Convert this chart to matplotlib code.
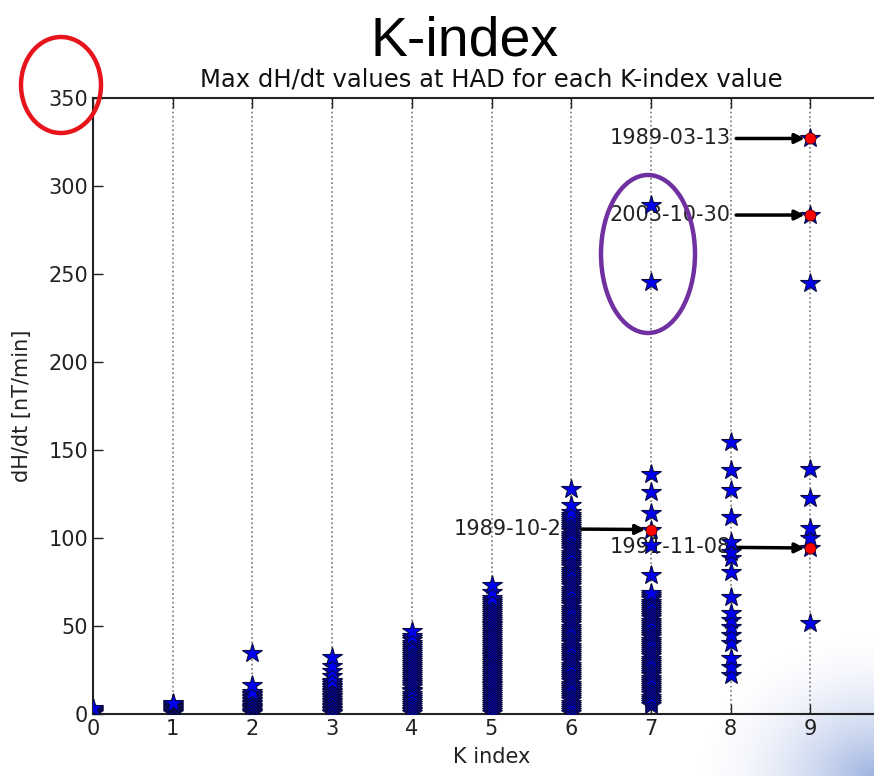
import numpy as np
import matplotlib
matplotlib.use("Agg")
import matplotlib.pyplot as plt
from matplotlib.patches import Ellipse

# ---------------- data ----------------
k_values = [0, 1, 2, 3, 4, 5, 6, 7, 8, 9]
x_tick_labels = ["0", "1", "2", "3", "4", "5", "6", "7", "8", "9"]
y_ticks = [0, 50, 100, 150, 200, 250, 300, 350]

k0 = [0.5, 1.0, 1.6, 2.2, 2.8, 3.4]
k1 = [0.4, 0.9, 1.5, 2.1, 2.6, 3.2, 3.8, 4.3, 4.9, 5.4, 6.0]
k2 = [0.5, 1.1, 1.8, 2.6, 3.3, 4.1, 4.8, 5.6, 6.4, 7.2, 8.0, 8.9, 9.7, 10.6,
      11.4, 12.3, 16.5, 34.7]
k3 = [0.5, 1.2, 2.0, 2.9, 3.8, 4.7, 5.6, 6.6, 7.5, 8.5, 9.4, 10.4, 11.3, 12.3,
      13.3, 14.2, 15.2, 16.1, 17.1, 18.0, 19.0, 21.5, 24.6, 27.3, 32.4]
k4 = [0.6, 1.5, 2.5, 3.6, 4.7, 5.8, 7.0, 8.1, 9.3, 10.4, 11.6, 12.8, 13.9, 15.1,
      16.3, 17.4, 18.6, 19.7, 20.9, 22.0, 23.2, 24.4, 25.5, 26.7, 27.8, 29.0,
      30.2, 31.3, 32.5, 33.6, 34.8, 36.0, 37.1, 38.3, 39.4, 40.6, 41.8, 42.9,
      44.1, 47.2]
k5 = [0.8, 1.9, 3.0, 4.1, 5.2, 6.3, 7.4, 8.5, 9.6, 10.7, 11.8, 12.9, 14.0,
      15.1, 16.2, 17.3, 18.4, 19.5, 20.6, 21.7, 22.8, 23.9, 25.0, 26.1, 27.2,
      28.3, 29.4, 30.5, 31.6, 32.7, 33.8, 34.9, 36.0, 37.1, 38.2, 39.3, 40.4,
      41.5, 42.6, 43.7, 44.8, 45.9, 47.0, 48.1, 49.2, 50.3, 51.4, 52.5, 53.6,
      54.7, 55.8, 56.9, 58.0, 59.1, 60.2, 61.3, 62.4, 63.5, 64.6, 65.8, 69.3,
      73.4]
k6 = [0.5, 1.7, 2.9, 4.1, 5.3, 6.5, 7.7, 8.9, 10.1, 11.3, 12.5, 13.7, 14.9,
      16.1, 17.3, 18.5, 19.7, 20.9, 22.1, 23.3, 24.5, 25.7, 26.9, 28.1, 29.3,
      30.5, 31.7, 32.9, 34.1, 35.3, 36.5, 37.7, 38.9, 40.1, 41.3, 42.5, 43.7,
      44.9, 46.1, 47.3, 48.5, 49.7, 50.9, 52.1, 53.3, 54.5, 55.7, 56.9, 58.1,
      59.3, 60.5, 61.7, 62.9, 64.1, 65.3, 66.5, 67.7, 68.9, 70.1, 71.3, 72.5,
      73.7, 74.9, 76.1, 77.3, 78.5, 79.7, 80.9, 82.1, 83.3, 84.5, 85.7, 86.9,
      88.1, 89.3, 90.5, 91.7, 92.9, 94.1, 95.3, 96.5, 97.7, 98.9, 100.1, 101.3,
      102.5, 103.7, 104.9, 106.1, 107.3, 108.5, 109.7, 110.9, 112.1, 113.3,
      114.6, 118.6, 127.8]
k7 = [5.1, 6.3, 7.5, 8.7, 9.9, 11.1, 12.3, 13.5, 14.7, 15.9, 17.1, 18.3, 19.5,
      20.7, 21.9, 23.1, 24.3, 25.5, 26.7, 27.9, 29.1, 30.3, 31.5, 32.7, 33.9,
      35.1, 36.3, 37.5, 38.7, 39.9, 41.1, 42.3, 43.5, 44.7, 45.9, 47.1, 48.3,
      49.5, 50.7, 51.9, 53.1, 54.3, 55.5, 56.7, 57.9, 59.1, 60.3, 61.5, 62.7,
      63.9, 65.1, 66.3, 67.5, 68.7, 78.9, 96.1, 104.8, 114.0, 126.3, 136.6,
      245.2, 289.3]
k8 = [22.2, 26.9, 31.8, 40.3, 44.9, 49.6, 53.4, 57.3, 66.7, 80.9, 88.6, 92.0,
      97.9, 112.1, 127.3, 138.6, 154.7]
k9 = [51.7, 94.3, 100.0, 105.7, 122.7, 139.2, 245.0, 283.5, 327.0]
all_values = [k0, k1, k2, k3, k4, k5, k6, k7, k8, k9]

# highlighted storms
storm_dates = ["1989-03-13", "2003-10-30", "1989-10-21", "1991-11-08"]
storm_k = [9, 9, 7, 9]
storm_values = [327.0, 283.5, 104.8, 94.3]
label_k = [8.0, 8.0, 6.05, 8.0]
label_values = [327.0, 283.5, 105.3, 95.0]

# ---------------- figure ----------------
W, H = 874, 776
fig = plt.figure(figsize=(W / 100, H / 100), dpi=100)
fig.patch.set_facecolor("white")

# subtle slide background glow in bottom-right corner
bg = fig.add_axes([0, 0, 1, 1], zorder=-5)
bg.set_axis_off()
yy, xx = np.mgrid[0:H, 0:W]
d = np.sqrt((W - xx) ** 2 * 0.9 + (H - yy) ** 2 * 1.4)
a = np.clip(1 - d / 175.0, 0, 1) ** 1.8 * 0.6
img = np.zeros((H, W, 4))
img[..., 0] = 0.36
img[..., 1] = 0.50
img[..., 2] = 0.80
img[..., 3] = a
bg.imshow(img, extent=[0, 1, 0, 1], aspect="auto", origin="upper")
bg.set_xlim(0, 1)
bg.set_ylim(0, 1)

ax = fig.add_axes([93 / W, 62 / H, 797 / W, 616 / H])
ax.patch.set_alpha(0.0)

for k, vals in zip(k_values, all_values):
    ax.plot([k] * len(vals), vals, linestyle="none", marker="*",
            markersize=15, markerfacecolor="#0000ee",
            markeredgecolor="#0a0a40", markeredgewidth=0.8, zorder=3,
            clip_on=True)

ax.plot(storm_k, storm_values, linestyle="none", marker="o", markersize=8,
        markerfacecolor="#ff0000", markeredgecolor="#400000",
        markeredgewidth=0.5, zorder=4)

for date, kx, vy, lx, ly in zip(storm_dates, storm_k, storm_values,
                                label_k, label_values):
    ax.annotate(date, xy=(kx, vy), xytext=(lx, ly), ha="right", va="center",
                fontsize=15, color="#222222", zorder=2,
                arrowprops=dict(arrowstyle="-|>", color="black", lw=2.5,
                                mutation_scale=14, shrinkA=2, shrinkB=4))

ax.set_xlim(0, 10)
ax.set_ylim(0, 350)
ax.set_xticks(k_values)
ax.set_xticklabels(x_tick_labels)
ax.set_yticks(y_ticks)
ax.tick_params(direction="in", length=7, width=1, labelsize=15,
               top=True, right=True, colors="#222222", labelcolor="#222222")
ax.grid(axis="x", linestyle=":", color="#777777", linewidth=1.2)
ax.set_axisbelow(True)
for s in ax.spines.values():
    s.set_linewidth(1.5)
    s.set_color("#222222")

ax.set_xlabel("K index", fontsize=15, color="#222222", labelpad=6)
ax.set_ylabel("dH/dt [nT/min]", fontsize=15, color="#222222", labelpad=12)
ax.set_title("Max dH/dt values at HAD for each K-index value", fontsize=17.5,
             color="#111111", pad=8)

fig.text(465 / W, 1 - 55 / H, "K-index", fontsize=40, ha="center",
         va="baseline", family="Liberation Sans", color="black")

# presenter highlight ellipses
fig.add_artist(Ellipse((61 / W, 1 - 85 / H), 80 / W, 96 / H,
                       transform=fig.transFigure, fill=False,
                       edgecolor="#e8141b", linewidth=3.2, zorder=10))
fig.add_artist(Ellipse((648 / W, 1 - 254 / H), 94 / W, 158 / H,
                       transform=fig.transFigure, fill=False,
                       edgecolor="#7030a0", linewidth=3.2, zorder=10))

fig.savefig("out.png", dpi=100)
